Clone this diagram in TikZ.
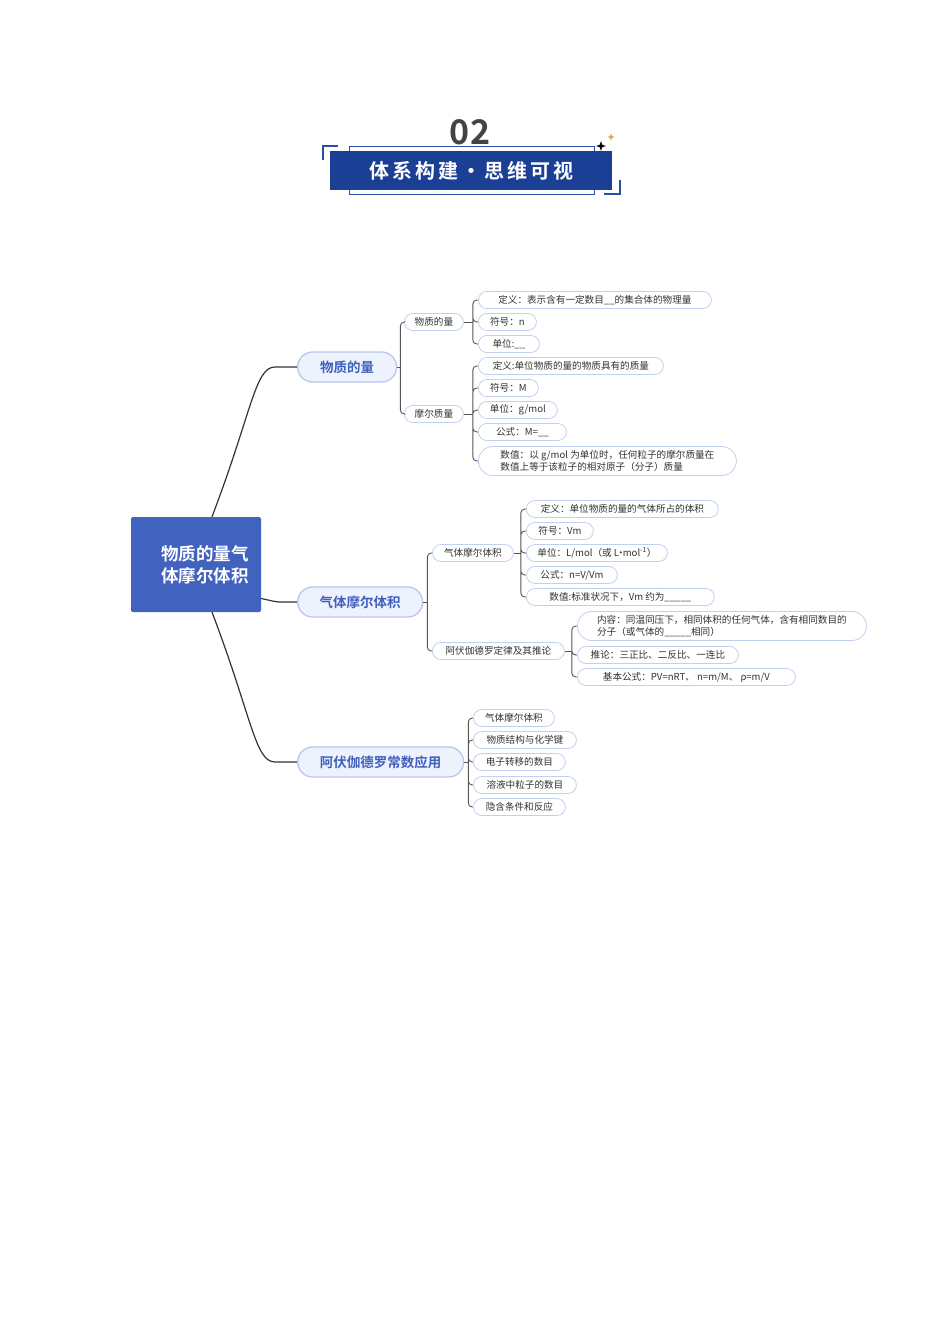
\documentclass[tikz,border=0pt]{standalone}
\usepackage{fontspec}
\setmainfont{Noto Sans CJK SC}[BoldFont={Noto Sans CJK SC Bold}]
\usepackage{tikz}
\usetikzlibrary{shapes.misc}
\definecolor{bannerblue}{HTML}{1B3F95}
\definecolor{frameblue}{HTML}{2A4EA6}
\definecolor{rootblue}{HTML}{4262C0}
\definecolor{topicfill}{HTML}{EEF2FC}
\definecolor{topicline}{HTML}{B9C7EE}
\definecolor{topictext}{HTML}{4060BE}
\definecolor{leafline}{HTML}{C3CFF0}
\definecolor{leaftext}{HTML}{333333}
\definecolor{trunkgray}{HTML}{333333}
\definecolor{twiggray}{HTML}{555555}
\definecolor{numgray}{HTML}{444444}
\definecolor{starorange}{HTML}{E89A3C}

\begin{document}
\begin{tikzpicture}[
x=1pt, y=-1pt,
rootbox/.style={fill=rootblue, minimum width=130, minimum height=95, rounded corners=1.5pt, inner sep=0},
roottxt/.style={text=white, font=\bfseries\fontsize{17.5}{22}\selectfont, align=left, inner sep=0, anchor=west},
topic/.style={rounded rectangle, draw=topicline, line width=1.3pt, fill=topicfill, text=topictext, font=\bfseries\fontsize{13.5}{16}\selectfont, minimum height=30, inner sep=1, anchor=west},
leaf/.style={rounded rectangle, draw=leafline, line width=0.8pt, fill=white, text=leaftext, font=\fontsize{9.6}{12}\selectfont, minimum height=17, inner sep=1, anchor=west, align=left},
trunk/.style={line width=1.2pt, draw=trunkgray},
twig/.style={line width=0.9pt, draw=twiggray},
forkline/.style={twig, rounded corners=4pt}
]
    \useasboundingbox (0,0) rectangle (950,1344);

    % Draw header
    \node[font=\bfseries\fontsize{34}{34}\selectfont, text=numgray] (num) at (470,132) {02};
    \draw[frameblue, line width=0.8pt] (349,146) rectangle (594,194);
    \node[fill=bannerblue, minimum width=282, minimum height=39, inner sep=0, text=white,
      font=\bfseries\fontsize{20}{20}\selectfont] (banner) at (471,170.5)
      {\addfontfeatures{LetterSpace=15}体系构建・思维可视};
    \draw[frameblue, line width=1.6pt] (323,160) |- (338,146);
    \draw[frameblue, line width=1.6pt] (620,180) |- (604,194);
    \fill (601,146) +(0,-5) -- +(1.2,-1.2) -- +(5,0) -- +(1.2,1.2) -- +(0,5) -- +(-1.2,1.2) -- +(-5,0) -- +(-1.2,-1.2) -- cycle;
    \fill[starorange] (611,137) +(0,-3.5) -- +(0.9,-0.9) -- +(3.5,0) -- +(0.9,0.9) -- +(0,3.5) -- +(-0.9,0.9) -- +(-3.5,0) -- +(-0.9,-0.9) -- cycle;

    % Draw root and main topics
    \node[rootbox] (root) at (196,564.5) {};
    \node[roottxt] (rootlabel) at (161,565) {物质的量气\\体摩尔体积};

    \node[topic, minimum width=101] (amount) at (297,367) {物质的量};
    \node[topic, minimum width=127] (gasvol) at (297,602) {气体摩尔体积};
    \node[topic, minimum width=168] (avog) at (297,762) {阿伏伽德罗常数应用};

    \draw[trunk] ([xshift=16pt]root.north) .. controls +(40,-105) and +(-20,0) .. ([xshift=-22pt]amount.west) -- (amount.west);
    \draw[trunk] ([yshift=-34pt]root.east) .. controls +(10,2) and +(-8,0) .. ([xshift=-15pt]gasvol.west) -- (gasvol.west);
    \draw[trunk] ([xshift=16pt]root.south) .. controls +(40,105) and +(-20,0) .. ([xshift=-22pt]avog.west) -- (avog.west);

    % amount of substance
    \node[leaf, minimum width=61] (amt) at (404,322) {物质的量};
    \node[leaf, minimum width=61] (molar) at (404,414) {摩尔质量};
    \draw[twig] (amount.east) -- ++(3,0) coordinate (amountfork);
    \draw[forkline] (amountfork) |- (amt.west) (amountfork) |- (molar.west);

    \node[leaf, minimum width=235] (amtdef) at (478,300) {定义：表示含有一定数目\_\_的集合体的物理量};
    \node[leaf, minimum width=60] (amtsym) at (478,322) {符号：n};
    \node[leaf, minimum width=63] (amtunit) at (478,344) {单位:\_\_};
    \draw[twig] (amt.east) -- ++(9,0) coordinate (amtfork);
    \draw[forkline] (amtfork) |- (amtdef.west) (amtfork) |- (amtsym.west) (amtfork) |- (amtunit.west);

    \node[leaf, minimum width=187] (molardef) at (478,366) {定义:单位物质的量的物质具有的质量};
    \node[leaf, minimum width=62] (molarsym) at (478,388) {符号：M};
    \node[leaf, minimum width=81] (molarunit) at (478,410) {单位：g/mol};
    \node[leaf, minimum width=90] (molarfml) at (478,432) {公式：M=\_\_};
    \node[leaf, minimum width=260, minimum height=29] (molarval) at (478,461)
      {数值：以 g/mol 为单位时，任何粒子的摩尔质量在\\数值上等于该粒子的相对原子（分子）质量};
    \draw[twig] (molar.east) -- ++(9,0) coordinate (molarfork);
    \draw[forkline] (molarfork) |- (molardef.west) (molarfork) |- (molarsym.west) (molarfork) |- (molarunit.west)
      (molarfork) |- (molarfml.west) (molarfork) |- (molarval.west);

    % gas molar volume
    \node[leaf, minimum width=83] (gas) at (432,553) {气体摩尔体积};
    \node[leaf, minimum width=134] (law) at (432,651) {阿伏伽德罗定律及其推论};
    \draw[twig] (gasvol.east) -- ++(4,0) coordinate (gasvolfork);
    \draw[forkline] (gasvolfork) |- (gas.west) (gasvolfork) |- (law.west);

    \node[leaf, minimum width=194] (gasdef) at (526,509) {定义：单位物质的量的气体所占的体积};
    \node[leaf, minimum width=69] (gassym) at (526,531) {符号：Vm};
    \node[leaf, minimum width=143] (gasunit) at (526,553) {单位：L/mol（或 L\kern-3pt·\kern-3pt mol\textsuperscript{-1}）};
    \node[leaf, minimum width=93] (gasfml) at (526,575) {公式：n=V/Vm};
    \node[leaf, minimum width=190] (gasval) at (526,597) {数值:标准状况下，Vm 约为\_\_\_\_\_};
    \draw[twig] (gas.east) -- ++(7,0) coordinate (gasfork);
    \draw[forkline] (gasfork) |- (gasdef.west) (gasfork) |- (gassym.west) (gasfork) |- (gasunit.west)
      (gasfork) |- (gasfml.west) (gasfork) |- (gasval.west);

    \node[leaf, minimum width=291, minimum height=29] (lawtext) at (577,626)
      {内容：同温同压下，相同体积的任何气体，含有相同数目的\\分子（或气体的\_\_\_\_\_相同）};
    \node[leaf, minimum width=163] (lawrule) at (577,655) {推论：三正比、二反比、一连比};
    \node[leaf, minimum width=220] (lawfml) at (577,677) {基本公式：PV=nRT、 n=m/M、 ρ=m/V};
    \draw[twig] (law.east) -- ++(7,0) coordinate (lawfork);
    \draw[forkline] (lawfork) |- (lawtext.west) (lawfork) |- (lawrule.west) (lawfork) |- (lawfml.west);

    % Avogadro constant
    \node[leaf, minimum width=83] (use1) at (473,718) {气体摩尔体积};
    \node[leaf, minimum width=105] (use2) at (473,740) {物质结构与化学键};
    \node[leaf, minimum width=94] (use3) at (473,762) {电子转移的数目};
    \node[leaf, minimum width=105] (use4) at (473,785) {溶液中粒子的数目};
    \node[leaf, minimum width=94] (use5) at (473,807) {隐含条件和反应};
    \draw[twig] (avog.east) -- ++(4,0) coordinate (avogfork);
    \draw[forkline] (avogfork) |- (use1.west) (avogfork) |- (use2.west) (avogfork) |- (use3.west)
      (avogfork) |- (use4.west) (avogfork) |- (use5.west);
\end{tikzpicture}
\end{document}
